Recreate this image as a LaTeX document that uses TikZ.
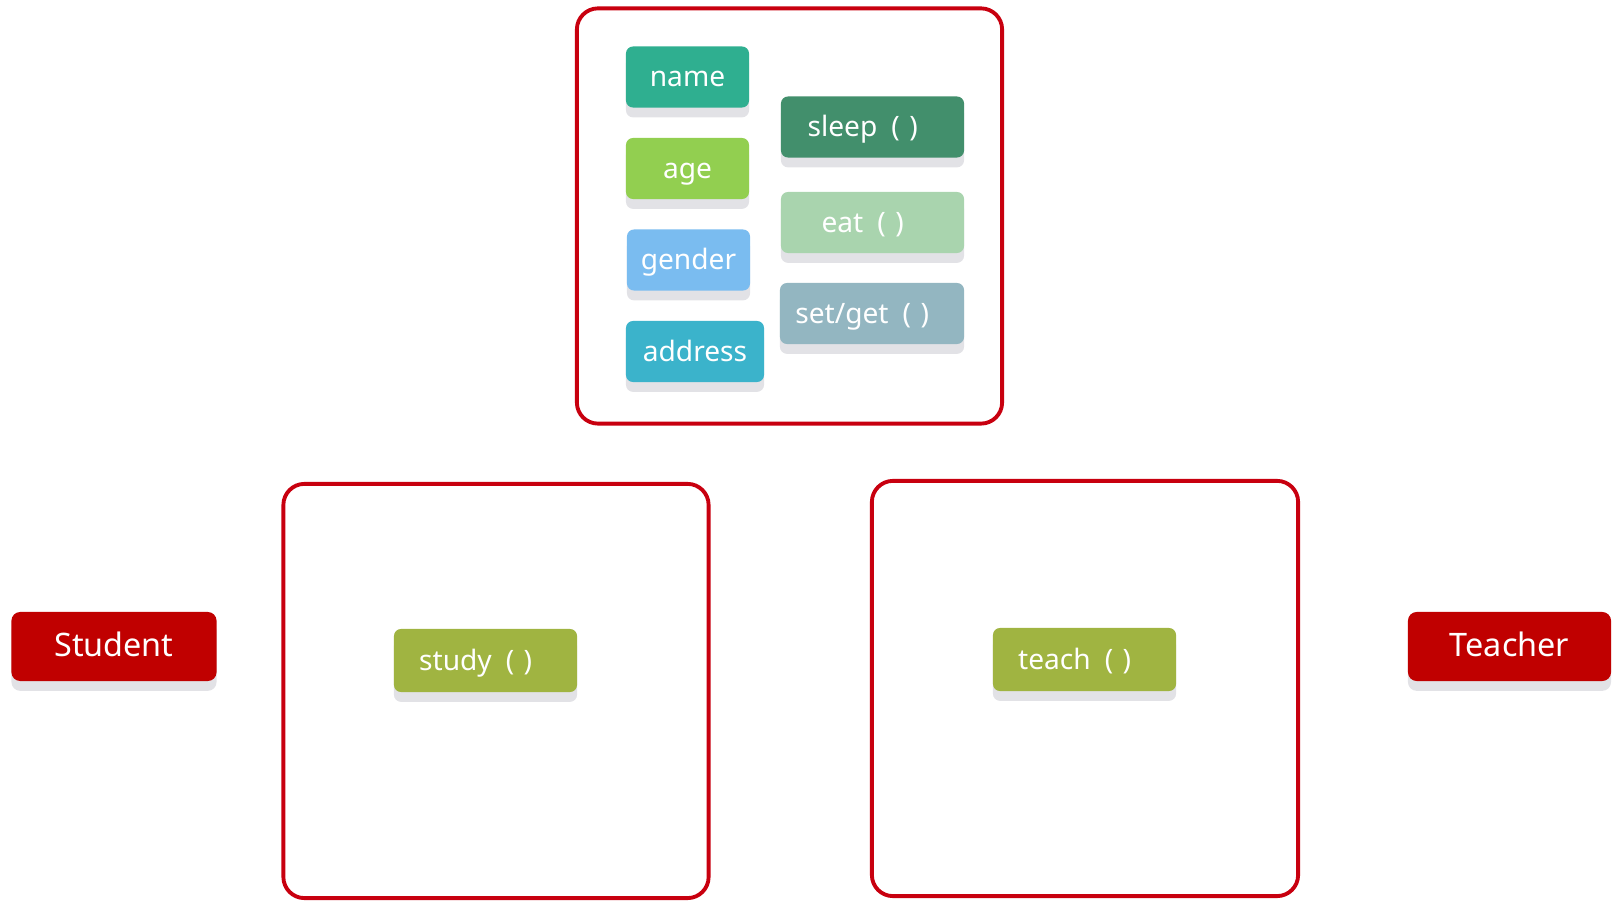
\documentclass[tikz,border=0pt]{standalone}
\usepackage{fontspec}
\setmainfont{Noto Sans}
\usetikzlibrary{shadows}
\usepackage{xcolor}

\definecolor{framered}{HTML}{C8000F}
\definecolor{classred}{HTML}{C00000}
\definecolor{tagshadow}{HTML}{E2E2E6}
\definecolor{namecol}{HTML}{2FAF90}
\definecolor{agecol}{HTML}{92CF50}
\definecolor{gendercol}{HTML}{7ABCF0}
\definecolor{addrcol}{HTML}{3BB3CB}
\definecolor{sleepcol}{HTML}{428F6C}
\definecolor{eatcol}{HTML}{A9D4AE}
\definecolor{setgetcol}{HTML}{93B6C1}
\definecolor{methodcol}{HTML}{A0B441}

\newcommand{\emptyparen}{\enspace(\,\,)\kern0.7em}

\begin{document}
\begin{tikzpicture}[x=0.01cm, y=-0.01cm,
    frame/.style={draw=framered, line width=1.1pt, rounded corners=6pt, minimum width=4.25cm, minimum height=4.15cm},
    tag/.style={fill=#1, text=white, rounded corners=2pt, minimum height=0.61cm, inner sep=0pt,
        text height=0.78em, text depth=0.22em,
        font=\fontsize{8}{9}\selectfont, general shadow={fill=tagshadow, shadow yshift=-2.8pt}},
    cls/.style={tag=classred, minimum width=2.05cm, minimum height=0.69cm, rounded corners=2.5pt,
        font=\fontsize{9.2}{11}\selectfont}]
    \useasboundingbox (0,0) rectangle (1617,907);

    % Parent class
    \node[frame] (parent) at (789.5,216) {};
    \node[tag=namecol, minimum width=1.23cm] (name) at (687.5,77) {name};
    \node[tag=agecol, minimum width=1.23cm] (age) at (687.5,168.5) {age};
    \node[tag=gendercol, minimum width=1.23cm] (gender) at (688.5,260) {gender};
    \node[tag=addrcol, minimum width=1.38cm] (address) at (695,351.5) {address};
    \node[tag=sleepcol, minimum width=1.83cm] (sleep) at (872.5,127) {sleep\emptyparen};
    \node[tag=eatcol, minimum width=1.83cm] (eat) at (872.5,222.5) {eat\emptyparen};
    \node[tag=setgetcol, minimum width=1.84cm] (setget) at (872,313.5) {set/get\emptyparen};

    % Child classes
    \node[frame, minimum height=4.14cm] (studentbox) at (496,691) {};
    \node[tag=methodcol, minimum width=1.83cm, minimum height=0.63cm] (study) at (485.5,660.5) {study\emptyparen};
    \node[frame, minimum width=4.26cm] (teacherbox) at (1085,688.5) {};
    \node[tag=methodcol, minimum width=1.83cm, minimum height=0.63cm] (teach) at (1084.5,659.5) {teach\emptyparen};

    % Class names
    \node[cls] (student) at (114,646.5) {Student};
    \node[cls, minimum width=2.03cm] (teacher) at (1509.5,646.5) {Teacher};
\end{tikzpicture}
\end{document}
